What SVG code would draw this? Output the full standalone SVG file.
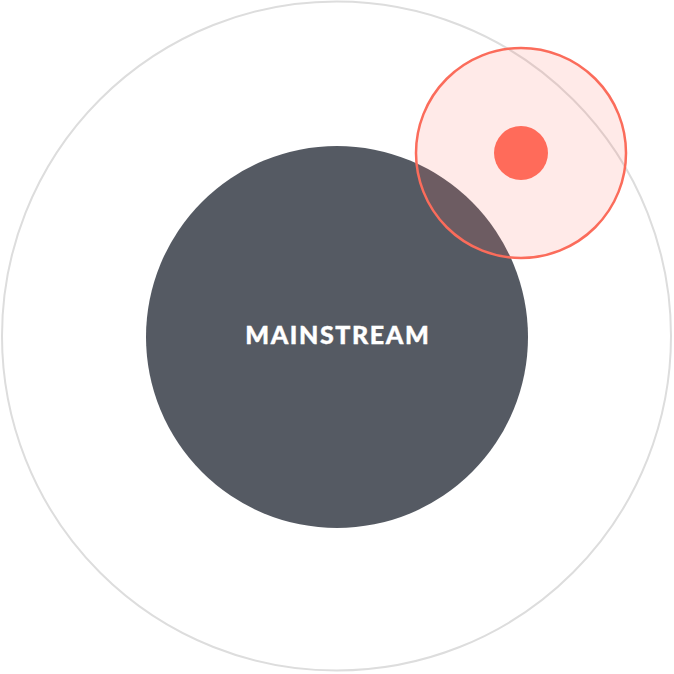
<svg xmlns="http://www.w3.org/2000/svg" width="674" height="674" viewBox="0 0 674 674">
<style>
.label{font-family:Lato,"Open Sans","Liberation Sans",sans-serif;font-weight:900;font-size:25px;letter-spacing:1.6px;fill:#ffffff;text-anchor:middle;stroke:#ffffff;stroke-width:0.4px}
</style>
<rect width="674" height="674" fill="#ffffff"/>
<g id="outer"><circle cx="336.5" cy="336" r="334.5" fill="none" stroke="#dddddd" stroke-width="2"/></g>
<g id="mainstream">
<circle cx="337" cy="337" r="191" fill="#555a63"/>
<text class="label" x="337.8" y="344">MAINSTREAM</text>
</g>
<g id="niche">
<circle cx="521" cy="153" r="105" fill="#ff6b5a" fill-opacity="0.14" stroke="#fb6c5b" stroke-width="2.5"/>
<circle cx="521" cy="153" r="27" fill="#ff6b5a"/>
</g>
<g id="connectors"/>
</svg>
